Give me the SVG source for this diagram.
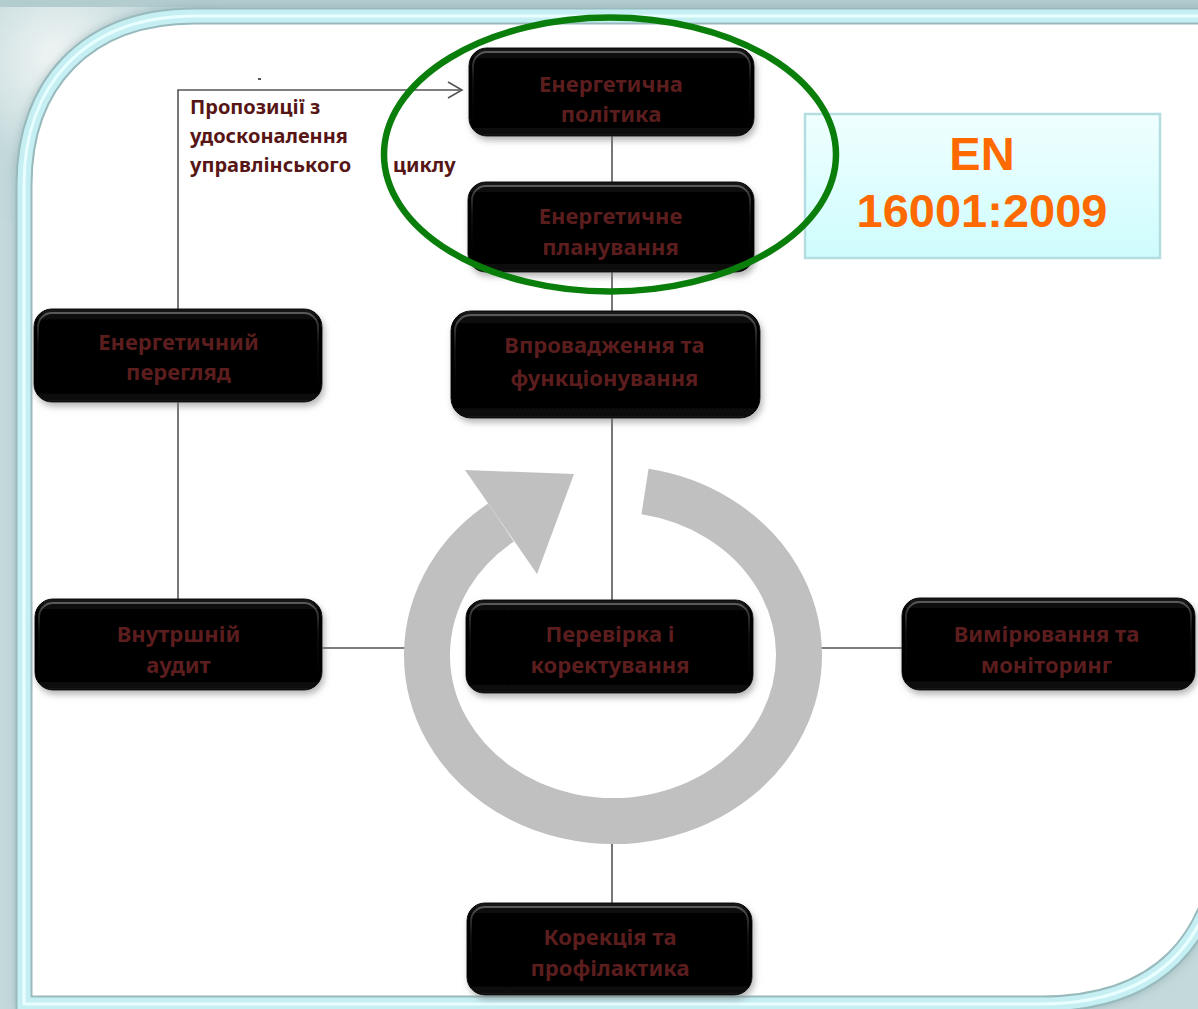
<svg xmlns="http://www.w3.org/2000/svg" width="1198" height="1009" viewBox="0 0 1198 1009">
<defs>
<style>
.node rect.body{fill:url(#nodeGrad);stroke:#000;stroke-width:1;filter:url(#shadow)}
.node rect.bevel{fill:none;stroke:url(#bevelGrad);stroke-width:2}
.node text{font-family:"Noto Sans","Open Sans",sans-serif;font-weight:bold;font-size:22px;fill:#5b1d1d;text-anchor:middle}
.conn{stroke:#555;stroke-width:1.6;fill:none}
.lbl{font-family:"Noto Sans","Open Sans",sans-serif;font-weight:bold;font-size:20px;fill:#571616}
.en{font-family:"Liberation Sans",Arial,sans-serif;font-weight:bold;font-size:47px;fill:#ff6a00;text-anchor:middle}
</style>
<linearGradient id="nodeGrad" x1="0" y1="0" x2="0" y2="1">
<stop offset="0" stop-color="#1c1c1c"/>
<stop offset="0.12" stop-color="#050505"/>
<stop offset="0.9" stop-color="#050505"/>
<stop offset="1" stop-color="#151515"/>
</linearGradient>
<linearGradient id="bevelGrad" x1="0" y1="0" x2="0" y2="1">
<stop offset="0" stop-color="#6a6a6a" stop-opacity="0.8"/>
<stop offset="0.35" stop-color="#333" stop-opacity="0.3"/>
<stop offset="1" stop-color="#000" stop-opacity="0"/>
</linearGradient>
<linearGradient id="enGrad" x1="0" y1="0" x2="0" y2="1">
<stop offset="0" stop-color="#f0ffff"/>
<stop offset="1" stop-color="#cefcfd"/>
</linearGradient>
<radialGradient id="cornerGlow" cx="60" cy="60" r="110" gradientUnits="userSpaceOnUse">
<stop offset="0" stop-color="#f2f6f6"/>
<stop offset="1" stop-color="#c2d8da"/>
</radialGradient>
<filter id="shadow" x="-10%" y="-10%" width="125%" height="135%">
<feDropShadow dx="2" dy="4" stdDeviation="3" flood-color="#7a7a7a" flood-opacity="0.55"/>
</filter>
<filter id="frameShadow" x="-5%" y="-5%" width="110%" height="110%">
<feGaussianBlur stdDeviation="6"/>
</filter>
</defs>

<!-- background and frame -->
<rect x="0" y="0" width="1198" height="1009" fill="#c4d9db"/>
<rect x="0" y="0" width="220" height="220" fill="url(#cornerGlow)"/>
<rect x="0" y="0" width="1198" height="7" fill="#b3cdcf"/>
<path d="M 24,1004 L 24,185 C 24,85 85,16 195,16 L 1225,16 L 1225,800 C 1225,950 1150,1004 1040,1004 Z" fill="none" stroke="#7f9ea1" stroke-width="14" filter="url(#frameShadow)" opacity="0.7"/>
<path d="M 24,1004 L 24,185 C 24,85 85,16 195,16 L 1225,16 L 1225,800 C 1225,950 1150,1004 1040,1004 Z" fill="#ffffff" stroke="#98babd" stroke-width="17"/>
<path d="M 24,1004 L 24,185 C 24,85 85,16 195,16 L 1225,16 L 1225,800 C 1225,950 1150,1004 1040,1004 Z" fill="none" stroke="#c6eff3" stroke-width="13"/>
<path d="M 24,1004 L 24,185 C 24,85 85,16 195,16 L 1225,16 L 1225,800 C 1225,950 1150,1004 1040,1004 Z" fill="none" stroke="#e9feff" stroke-width="3"/>

<!-- connectors -->
<g id="connectors">
<path class="conn" d="M 178,310 L 178,90 L 462,90"/>
<path class="conn" d="M 448,82 L 462,90 L 448,98"/>
<line class="conn" x1="178" y1="402" x2="178" y2="600"/>
<line class="conn" x1="612" y1="135" x2="612" y2="183"/>
<line class="conn" x1="612" y1="272" x2="612" y2="312"/>
<line class="conn" x1="612" y1="418" x2="612" y2="600"/>
<line class="conn" x1="612" y1="840" x2="612" y2="904"/>
<line class="conn" x1="321" y1="648" x2="406" y2="648"/>
<line class="conn" x1="820" y1="648" x2="903" y2="648"/>
<rect x="258" y="78" width="3" height="2" fill="#555"/>
</g>

<!-- cycle arrow -->
<g id="cycle">
<path d="M 645,491.5 A 186 166 0 1 1 501,522.5" fill="none" stroke="#c0c0c0" stroke-width="46"/>
<polygon points="465,470 574,474 537,574" fill="#c0c0c0"/>
</g>

<!-- label -->
<g id="label">
<text class="lbl" x="190" y="114">Пропозиції з</text>
<text class="lbl" x="190" y="143">удосконалення</text>
<text class="lbl" x="190" y="172">управлінського</text>
<text class="lbl" x="393" y="172">циклу</text>
</g>

<!-- nodes -->
<g id="n-policy" class="node">
<rect class="body" x="469" y="48" width="285" height="88" rx="18"/>
<rect class="bevel" x="473" y="52" width="277" height="80" rx="14"/>
<text x="611" y="91.5">Енергетична</text>
<text x="611" y="121.5">політика</text>
</g>
<g id="n-planning" class="node">
<rect class="body" x="468" y="182" width="286" height="90" rx="18"/>
<rect class="bevel" x="472" y="186" width="278" height="82" rx="14"/>
<text x="610.5" y="224">Енергетичне</text>
<text x="610.5" y="255">планування</text>
</g>
<g id="n-implementation" class="node">
<rect class="body" x="451" y="311" width="309" height="107" rx="20"/>
<rect class="bevel" x="455" y="315" width="301" height="99" rx="16"/>
<text x="604.5" y="353">Впровадження та</text>
<text x="604.5" y="386">функціонування</text>
</g>
<g id="n-review" class="node">
<rect class="body" x="34" y="309" width="288" height="93" rx="18"/>
<rect class="bevel" x="38" y="313" width="280" height="85" rx="14"/>
<text x="178.5" y="350">Енергетичний</text>
<text x="178.5" y="380">перегляд</text>
</g>
<g id="n-audit" class="node">
<rect class="body" x="35" y="599" width="287" height="91" rx="18"/>
<rect class="bevel" x="39" y="603" width="279" height="83" rx="14"/>
<text x="178.5" y="642">Внутршній</text>
<text x="178.5" y="673">аудит</text>
</g>
<g id="n-check" class="node">
<rect class="body" x="466" y="600" width="287" height="93" rx="18"/>
<rect class="bevel" x="470" y="604" width="279" height="85" rx="14"/>
<text x="610" y="642">Перевірка і</text>
<text x="610" y="673">коректування</text>
</g>
<g id="n-measure" class="node">
<rect class="body" x="902" y="598" width="293" height="92" rx="18"/>
<rect class="bevel" x="906" y="602" width="285" height="84" rx="14"/>
<text x="1046.5" y="642">Вимірювання та</text>
<text x="1046.5" y="673">моніторинг</text>
</g>
<g id="n-correction" class="node">
<rect class="body" x="467" y="903" width="285" height="92" rx="18"/>
<rect class="bevel" x="471" y="907" width="277" height="84" rx="14"/>
<text x="610" y="945">Корекція та</text>
<text x="610" y="976">профілактика</text>
</g>

<!-- EN box -->
<g id="n-en">
<rect x="805" y="114" width="355" height="144" fill="url(#enGrad)" stroke="#b3dde1" stroke-width="2.5"/>
<text class="en" x="982" y="170">EN</text>
<text class="en" x="982" y="227">16001:2009</text>
</g>

<!-- highlight ellipse -->
<g id="highlight">
<ellipse cx="610" cy="154.5" rx="226" ry="137" fill="none" stroke="#0a7e0a" stroke-width="6.5"/>
</g>
</svg>
